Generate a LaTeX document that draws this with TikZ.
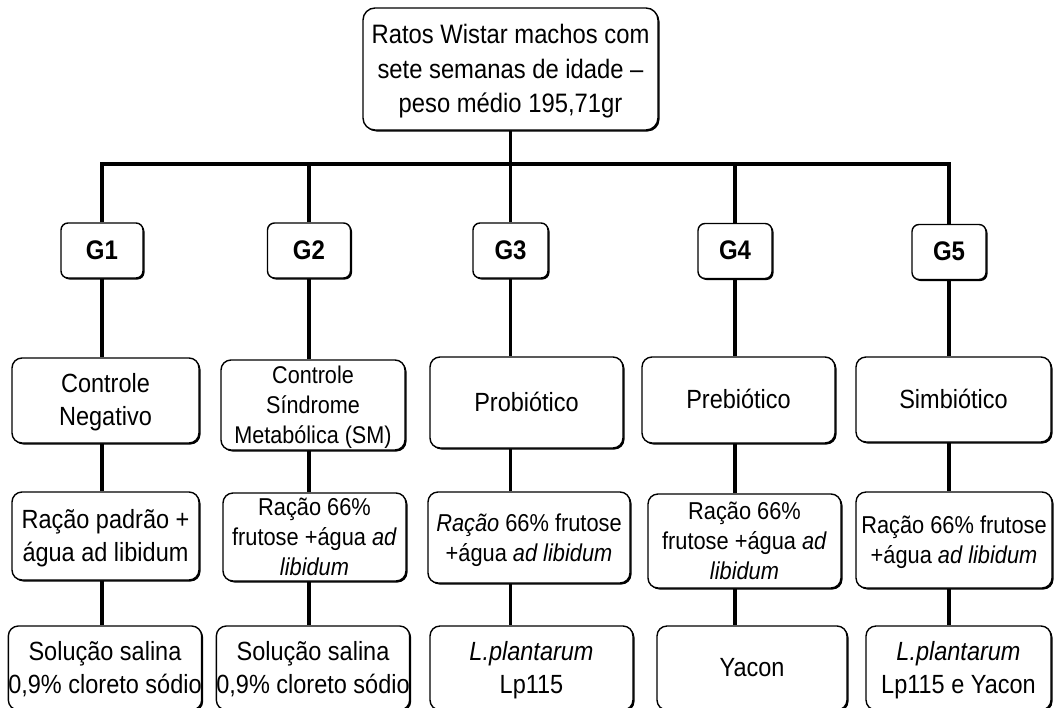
\documentclass[tikz,border=0pt]{standalone}
\usepackage{fontspec}
\setmainfont{Liberation Sans}
\usepackage{graphicx}
\usetikzlibrary{shadows}
\newcommand\tx[1]{\smash{\raisebox{-0.39em}{\scalebox{1}[1.12]{\begin{tabular}{@{}c@{}}#1\end{tabular}}}}}
\tikzset{
  box/.style={draw, line width=1.4pt, fill=white, rounded corners=10pt, inner sep=0pt,
    drop shadow={shadow xshift=1.5pt, shadow yshift=-1.5pt, opacity=1, fill=black}},
  gbox/.style={box, rounded corners=7pt, minimum height=55pt, font=\fontsize{24}{28}\selectfont\bfseries},
  big/.style={font=\fontsize{23.5}{29.5}\selectfont},
  small/.style={font=\fontsize{21.8}{26.6}\selectfont},
  conn/.style={line width=3.6pt},
}
\begin{document}
\begin{tikzpicture}[x=1pt,y=-1pt]
\useasboundingbox (0,0) rectangle (1056,707);
% top
\node[box, rounded corners=12pt, minimum width=295pt, minimum height=122pt, font=\fontsize{23.8}{31}\selectfont] (top) at (510.5,69)
  {\tx{Ratos Wistar machos com\\sete semanas de idade --\\peso médio 195,71gr}};
% group labels
\node[gbox, minimum width=82pt] (g1) at (102,250.5) {\tx{G1}};
\node[gbox, minimum width=83pt] (g2) at (309,250.5) {\tx{G2}};
\node[gbox, minimum width=75pt] (g3) at (510.5,250.5) {\tx{G3}};
\node[gbox, minimum width=74pt] (g4) at (735,251) {\tx{G4}};
\node[gbox, minimum width=74pt] (g5) at (949,252) {\tx{G5}};
% level 2
\node[box, big, minimum width=187pt, minimum height=85pt] (a1) at (105.5,400.5) {\tx{Controle\\Negativo}};
\node[box, font=\fontsize{21.6}{26.5}\selectfont, minimum width=184pt, minimum height=90pt] (a2) at (313,405) {\tx{Controle\\Síndrome\\Metabólica (SM)}};
\node[box, big, minimum width=193pt, minimum height=91pt] (a3) at (526.5,402.5) {\tx{Probiótico}};
\node[box, big, minimum width=193pt, minimum height=86pt] (a4) at (738.5,400) {\tx{Prebiótico}};
\node[box, big, minimum width=195pt, minimum height=85pt] (a5) at (953.5,399.5) {\tx{Simbiótico}};
% level 3
\node[box, big, minimum width=187pt, minimum height=88pt] (b1) at (105.5,536) {\tx{Ração padrão +\\água ad libidum}};
\node[box, small, minimum width=183pt, minimum height=88pt] (b2) at (314.5,537) {\tx{Ração 66\%\\frutose +água \textit{ad}\\\textit{libidum}}};
\node[box, small, minimum width=202pt, minimum height=91pt] (b3) at (529,537.5) {\tx{\textit{Ração} 66\% frutose\\+água \textit{ad libidum}}};
\node[box, small, minimum width=193pt, minimum height=94pt] (b4) at (744.5,541) {\tx{Ração 66\%\\frutose +água \textit{ad}\\\textit{libidum}}};
\node[box, small, minimum width=196pt, minimum height=96pt] (b5) at (954,540) {\tx{Ração 66\% frutose\\+água \textit{ad libidum}}};
% level 4
\node[box, big, minimum width=186pt, minimum height=84pt] (c1) at (105,668) {\tx{Solução salina\\0,9\% cloreto sódio}};
\node[box, big, minimum width=188pt, minimum height=84pt] (c2) at (313,668) {\tx{Solução salina\\0,9\% cloreto sódio}};
\node[box, big, minimum width=203pt, minimum height=84pt] (c3) at (531.5,668) {\tx{\textit{L.plantarum}\\Lp115}};
\node[box, big, minimum width=190pt, minimum height=84pt] (c4) at (752,668) {\tx{Yacon}};
\node[box, big, minimum width=185pt, minimum height=84pt] (c5) at (958.5,668) {\tx{\textit{L.plantarum}\\Lp115 e Yacon}};
% connectors
\coordinate (bus) at (510.5,164);
\draw[conn] (top.south) -- (g3.north);
\draw[conn, line join=miter] (g1.north) |- (bus) -| (g5.north);
\draw[conn] (g2.north) -- (g2.north |- bus);
\draw[conn] (g4.north) -- (g4.north |- bus);
\foreach \i in {1,...,5}{
  \draw[conn] (g\i.south) -- (g\i.south |- a\i.north);
  \draw[conn] (a\i.south -| g\i) -- (b\i.north -| g\i);
  \draw[conn] (b\i.south -| g\i) -- (c\i.north -| g\i);
}
\end{tikzpicture}
\end{document}
